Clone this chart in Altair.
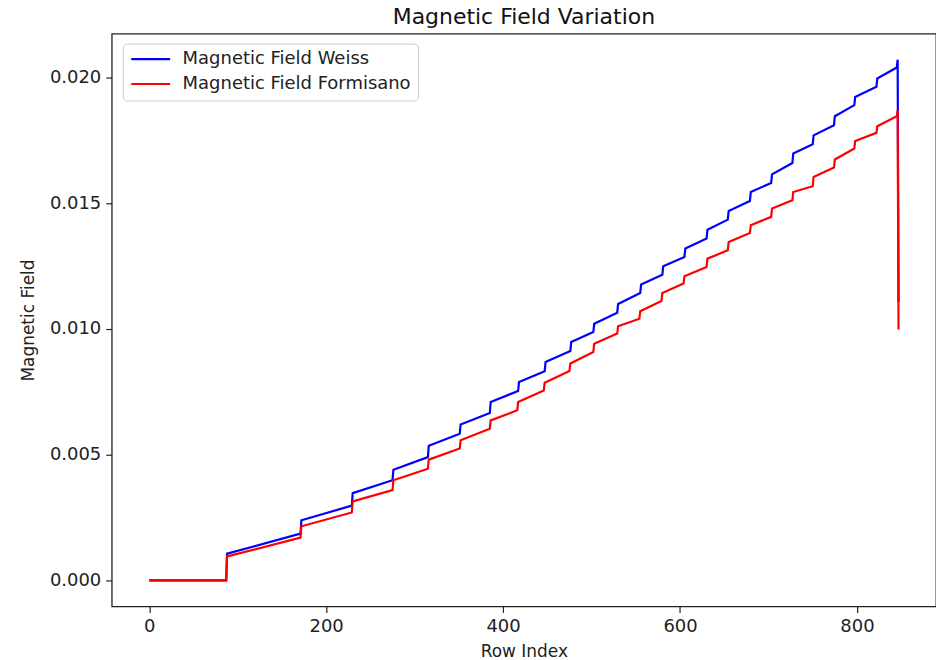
import altair as alt
import pandas as pd

series_names = ["Magnetic Field Weiss", "Magnetic Field Formisano"]
series_colors = ["#0000ff", "#ff0000"]

weiss_row = [0, 87, 88, 171, 172, 229, 230, 275, 276, 315, 316, 351, 352, 385, 386,
             417, 418, 447, 448, 476, 477, 502, 503, 529, 530, 555, 556, 580, 581,
             605, 606, 630, 631, 654, 655, 679, 680, 703, 704, 727, 728, 750, 751,
             774, 775, 797, 798, 822, 823, 845, 846, 847]
weiss_field = [0.0, 0.0, 0.00106, 0.00186, 0.00239, 0.00297, 0.00347, 0.00398, 0.0044,
               0.0049, 0.00535, 0.00583, 0.0062, 0.00665, 0.00709, 0.00753, 0.00789,
               0.00831, 0.00868, 0.00912, 0.00948, 0.00987, 0.0102, 0.01064, 0.01099,
               0.01142, 0.01176, 0.01215, 0.01249, 0.01286, 0.01319, 0.01359, 0.01394,
               0.01434, 0.01468, 0.01508, 0.01544, 0.0158, 0.01614, 0.01659, 0.01697,
               0.01734, 0.01769, 0.01809, 0.01845, 0.01889, 0.01922, 0.01962, 0.01995,
               0.02039, 0.0207, 0.01107]

formisano_row = [0, 87, 88, 171, 172, 229, 230, 275, 276, 315, 316, 351, 352, 385, 386,
                 416, 417, 446, 447, 475, 476, 502, 503, 529, 530, 554, 555, 579, 580,
                 604, 605, 630, 631, 654, 655, 679, 680, 703, 704, 727, 728, 750, 751,
                 774, 775, 797, 798, 822, 823, 845, 846, 847]
formisano_field = [0.0, 0.0, 0.00095, 0.0017, 0.00215, 0.0027, 0.00314, 0.00359, 0.00398,
                   0.00444, 0.0048, 0.00524, 0.00557, 0.00603, 0.00636, 0.00676, 0.00709,
                   0.00755, 0.00786, 0.00832, 0.00862, 0.00908, 0.00941, 0.00981, 0.0101,
                   0.0104, 0.0107, 0.01111, 0.01142, 0.0118, 0.01209, 0.01246, 0.01279,
                   0.01312, 0.01345, 0.01381, 0.01412, 0.01445, 0.01478, 0.01511, 0.01544,
                   0.01567, 0.01604, 0.01641, 0.01673, 0.01717, 0.01747, 0.01779, 0.01805,
                   0.01845, 0.01869, 0.00997]

x_ticks = [0, 200, 400, 600, 800]
y_ticks = [0.0, 0.005, 0.010, 0.015, 0.020]

df_w = pd.DataFrame({"row": weiss_row, "field": weiss_field,
                     "series": series_names[0], "order": range(len(weiss_row))})
df_f = pd.DataFrame({"row": formisano_row, "field": formisano_field,
                     "series": series_names[1], "order": range(len(formisano_row))})

FONT = "DejaVu Sans"

x_enc = alt.X("row:Q",
              scale=alt.Scale(domain=[-42.35, 889.35], nice=False, zero=False),
              axis=alt.Axis(values=x_ticks, title="Row Index", format="d"))
y_enc = alt.Y("field:Q",
              scale=alt.Scale(domain=[-0.001035, 0.021735], nice=False, zero=False),
              axis=alt.Axis(values=y_ticks, title="Magnetic Field", format=".3f"))
color_enc = alt.Color("series:N",
                      scale=alt.Scale(domain=series_names, range=series_colors),
                      legend=alt.Legend(title=None, orient="none", legendX=11, legendY=10,
                                        symbolType="stroke", symbolSize=1521,
                                        symbolStrokeWidth=2.2, clipHeight=17,
                                        labelFontSize=18, labelFont=FONT,
                                        labelColor="#222222", labelOffset=11,
                                        labelLimit=500,
                                        rowPadding=6, padding=7,
                                        fillColor="white", strokeColor="#cccccc",
                                        cornerRadius=4))

line_w = alt.Chart(df_w).mark_line(strokeWidth=2.2).encode(
    x=x_enc, y=y_enc, color=color_enc, order="order:Q")
line_f = alt.Chart(df_f).mark_line(strokeWidth=2.2).encode(
    x=x_enc, y=y_enc, color=color_enc, order="order:Q")

chart = alt.layer(line_w, line_f).properties(
    width=826, height=574,
    title=alt.Title("Magnetic Field Variation", fontSize=22, font=FONT,
                    fontWeight="normal", anchor="middle", baseline="alphabetic",
                    offset=9, dy=21, color="#111111"),
    autosize=alt.AutoSizeParams(type="none"),
    padding={"left": 112, "top": 33, "right": 0, "bottom": 53},
).configure_view(
    stroke="#222222", strokeWidth=1.3
).configure_axis(
    domain=False, grid=False, tickSize=6, tickColor="#222222", tickWidth=1.2,
    labelFont=FONT, labelFontSize=18, labelColor="#222222", labelPadding=5,
    titleFont=FONT, titleFontSize=17, titleFontWeight="normal", titleColor="#222222"
).configure_axisX(
    titlePadding=8
).configure_axisY(
    titlePadding=12
)

chart.save("out.html", embed_options={"renderer": "svg", "actions": False})
